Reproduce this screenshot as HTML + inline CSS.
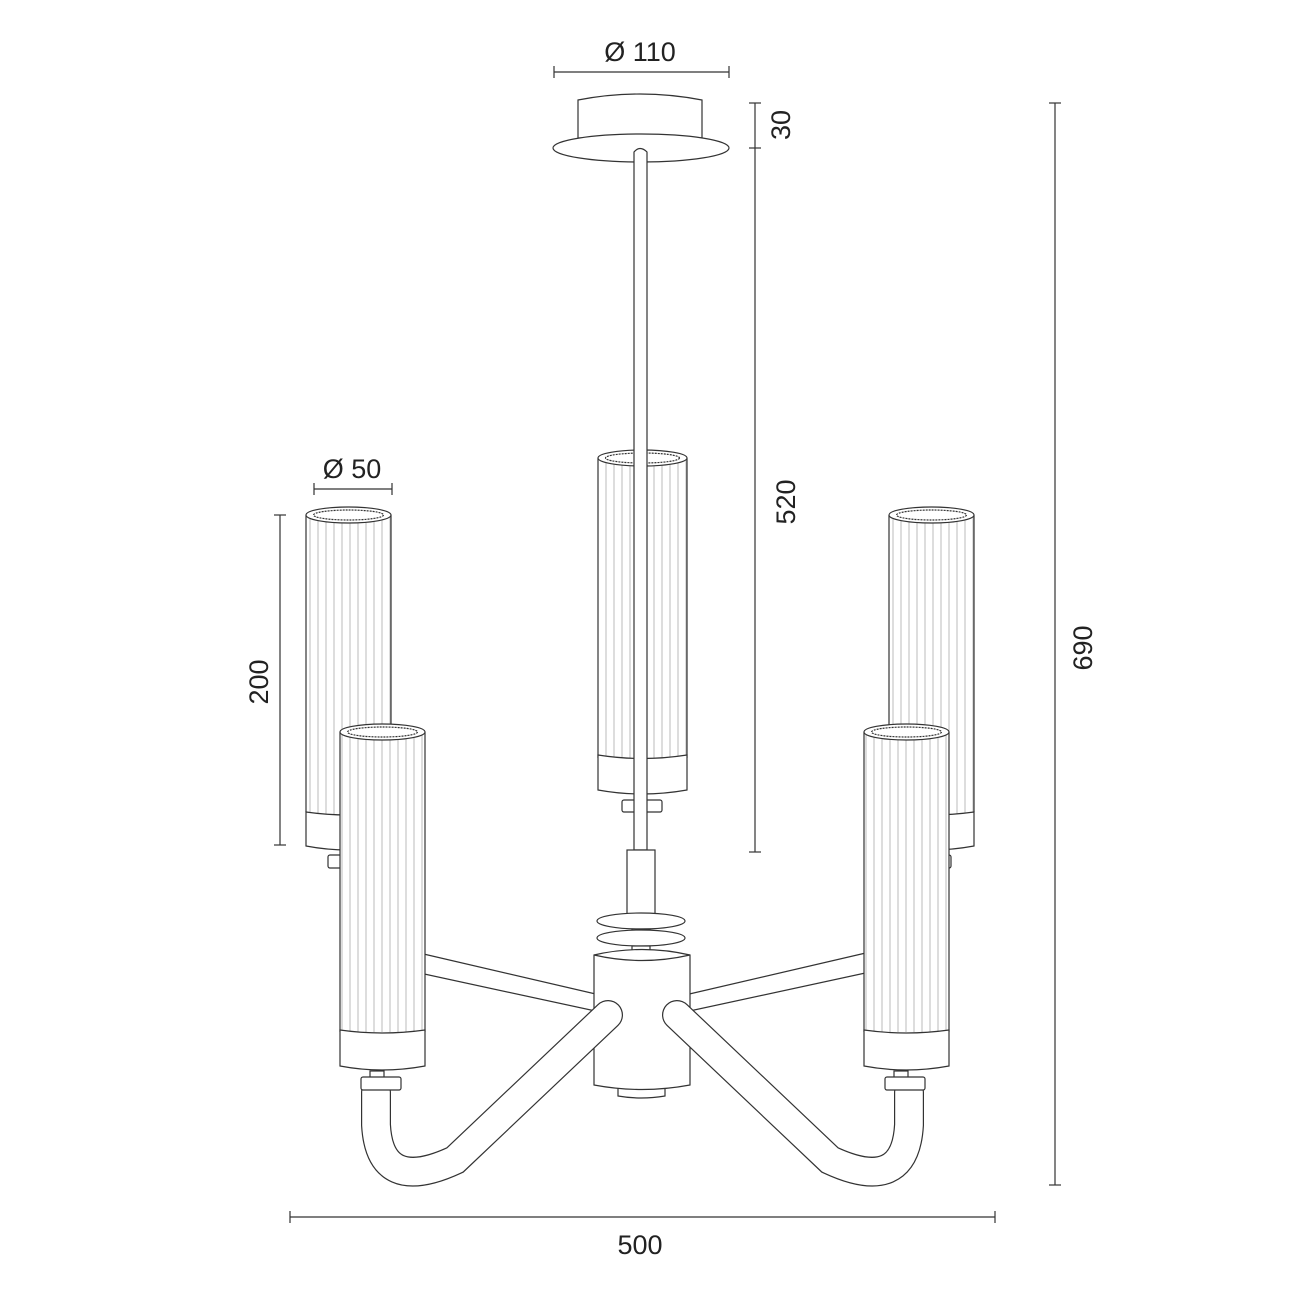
<!DOCTYPE html>
<html><head><meta charset="utf-8"><style>
html,body{margin:0;padding:0;background:#fff;}
svg{display:block;}
text{font-family:"Liberation Sans",sans-serif;font-size:27px;fill:#222;}
</style></head><body>
<svg width="1300" height="1300" viewBox="0 0 1300 1300" xmlns="http://www.w3.org/2000/svg">
<defs>
<pattern id="fl" patternUnits="userSpaceOnUse" width="8" height="10" x="2" y="0">
<rect width="8" height="10" fill="#fff"/>
<line x1="4" y1="0" x2="4" y2="10" stroke="#bbb" stroke-width="1"/>
</pattern>
</defs>
<g fill="none" stroke="#333" stroke-width="1.2">
<line x1="554" y1="72" x2="729" y2="72"/><line x1="554" y1="66" x2="554" y2="78"/><line x1="729" y1="66" x2="729" y2="78"/>
<line x1="314" y1="489" x2="392" y2="489"/><line x1="314" y1="483" x2="314" y2="495"/><line x1="392" y1="483" x2="392" y2="495"/>
<line x1="280" y1="515" x2="280" y2="845"/><line x1="274" y1="515" x2="286" y2="515"/><line x1="274" y1="845" x2="286" y2="845"/>
<line x1="755" y1="103" x2="755" y2="852"/><line x1="749" y1="103" x2="761" y2="103"/><line x1="749" y1="148" x2="761" y2="148"/><line x1="749" y1="852" x2="761" y2="852"/>
<line x1="1055" y1="103" x2="1055" y2="1185"/><line x1="1049" y1="103" x2="1061" y2="103"/><line x1="1049" y1="1185" x2="1061" y2="1185"/>
<line x1="290" y1="1217" x2="995" y2="1217"/><line x1="290" y1="1211" x2="290" y2="1223"/><line x1="995" y1="1211" x2="995" y2="1223"/>
</g>
<text x="640" y="61" text-anchor="middle">Ø 110</text>
<text x="352" y="478" text-anchor="middle">Ø 50</text>
<text x="640" y="1254" text-anchor="middle">500</text>
<text transform="translate(268,682) rotate(-90)" text-anchor="middle">200</text>
<text transform="translate(790,125) rotate(-90)" text-anchor="middle">30</text>
<text transform="translate(795,502) rotate(-90)" text-anchor="middle">520</text>
<text transform="translate(1092,648) rotate(-90)" text-anchor="middle">690</text>

<g stroke="#333" stroke-width="1.2" fill="#fff">
<path d="M578,100 Q640,88 702,100 L702,138 L578,138 Z"/>
<ellipse cx="641" cy="148" rx="88" ry="14"/>
<path d="M415,952 L600,995 L600,1012 L415,972 Z"/>
<path d="M870,952 L685,995 L685,1012 L870,972 Z"/>
<g>
<rect x="306" y="515" width="85" height="300" fill="url(#fl)" stroke="none"/>
<path d="M306,515 L306,812 M391,515 L391,812" fill="none"/>
<ellipse cx="348.5" cy="515" rx="42.5" ry="8"/>
<ellipse cx="348.5" cy="515" rx="35" ry="5" stroke-dasharray="2 1"/>
<path d="M306,812 L306,846 Q348,854 391,846 L391,812 Q348,818 306,812 Z"/>
<rect x="328" y="855" width="40" height="13" rx="2"/>
</g>
<g transform="translate(583,0)">
<rect x="306" y="515" width="85" height="300" fill="url(#fl)" stroke="none"/>
<path d="M306,515 L306,812 M391,515 L391,812" fill="none"/>
<ellipse cx="348.5" cy="515" rx="42.5" ry="8"/>
<ellipse cx="348.5" cy="515" rx="35" ry="5" stroke-dasharray="2 1"/>
<path d="M306,812 L306,846 Q348,854 391,846 L391,812 Q348,818 306,812 Z"/>
<rect x="328" y="855" width="40" height="13" rx="2"/>
</g>
<rect x="598" y="458" width="89" height="300" fill="url(#fl)" stroke="none"/>
<path d="M598,458 L598,758 M687,458 L687,758" fill="none"/>
<ellipse cx="642.5" cy="458" rx="44.5" ry="8"/>
<ellipse cx="642.5" cy="458" rx="37" ry="5" stroke-dasharray="2 1"/>
<path d="M598,755 L598,790 Q642,798 687,790 L687,755 Q642,762 598,755 Z"/>
<rect x="622" y="800" width="40" height="12" rx="2"/>
<path d="M634,152 Q640,145 647,152 L647,850 L634,850 Z"/>
<rect x="627" y="850" width="28" height="70"/>
<ellipse cx="641" cy="921" rx="44" ry="8"/>
<rect x="632" y="929" width="18" height="8"/>
<ellipse cx="641" cy="938" rx="44" ry="8"/>
<rect x="632" y="946" width="18" height="8"/>
<path d="M618,1080 L618,1096 Q641,1100 665,1096 L665,1080 Z"/>
<path d="M594,955 Q642,944 690,955 L690,1085 Q642,1094 594,1085 Z"/>
<path d="M594,955 Q642,966 690,955" fill="none"/>
</g>
<g fill="none" stroke-linecap="round">
<path d="M376,1092 L376,1125 Q380,1195 455,1160 L608,1015" stroke="#333" stroke-width="30"/>
<path d="M376,1092 L376,1125 Q380,1195 455,1160 L608,1015" stroke="#fff" stroke-width="27.6"/>
<path d="M909,1092 L909,1125 Q905,1195 830,1160 L677,1015" stroke="#333" stroke-width="30"/>
<path d="M909,1092 L909,1125 Q905,1195 830,1160 L677,1015" stroke="#fff" stroke-width="27.6"/>
</g>
<g stroke="#333" stroke-width="1.2" fill="#fff">
<g>
<rect x="340" y="732" width="85" height="300" fill="url(#fl)" stroke="none"/>
<path d="M340,732 L340,1032 M425,732 L425,1032" fill="none"/>
<ellipse cx="382.5" cy="732" rx="42.5" ry="8"/>
<ellipse cx="382.5" cy="732" rx="35" ry="5" stroke-dasharray="2 1"/>
<path d="M340,1030 L340,1066 Q382,1074 425,1066 L425,1030 Q382,1036 340,1030 Z"/>
<rect x="370" y="1071" width="14" height="7"/>
<rect x="361" y="1077" width="40" height="13" rx="2"/>
</g>
<g transform="translate(524,0)">
<rect x="340" y="732" width="85" height="300" fill="url(#fl)" stroke="none"/>
<path d="M340,732 L340,1032 M425,732 L425,1032" fill="none"/>
<ellipse cx="382.5" cy="732" rx="42.5" ry="8"/>
<ellipse cx="382.5" cy="732" rx="35" ry="5" stroke-dasharray="2 1"/>
<path d="M340,1030 L340,1066 Q382,1074 425,1066 L425,1030 Q382,1036 340,1030 Z"/>
<rect x="370" y="1071" width="14" height="7"/>
<rect x="361" y="1077" width="40" height="13" rx="2"/>
</g>
</g>
</svg>
</body></html>
